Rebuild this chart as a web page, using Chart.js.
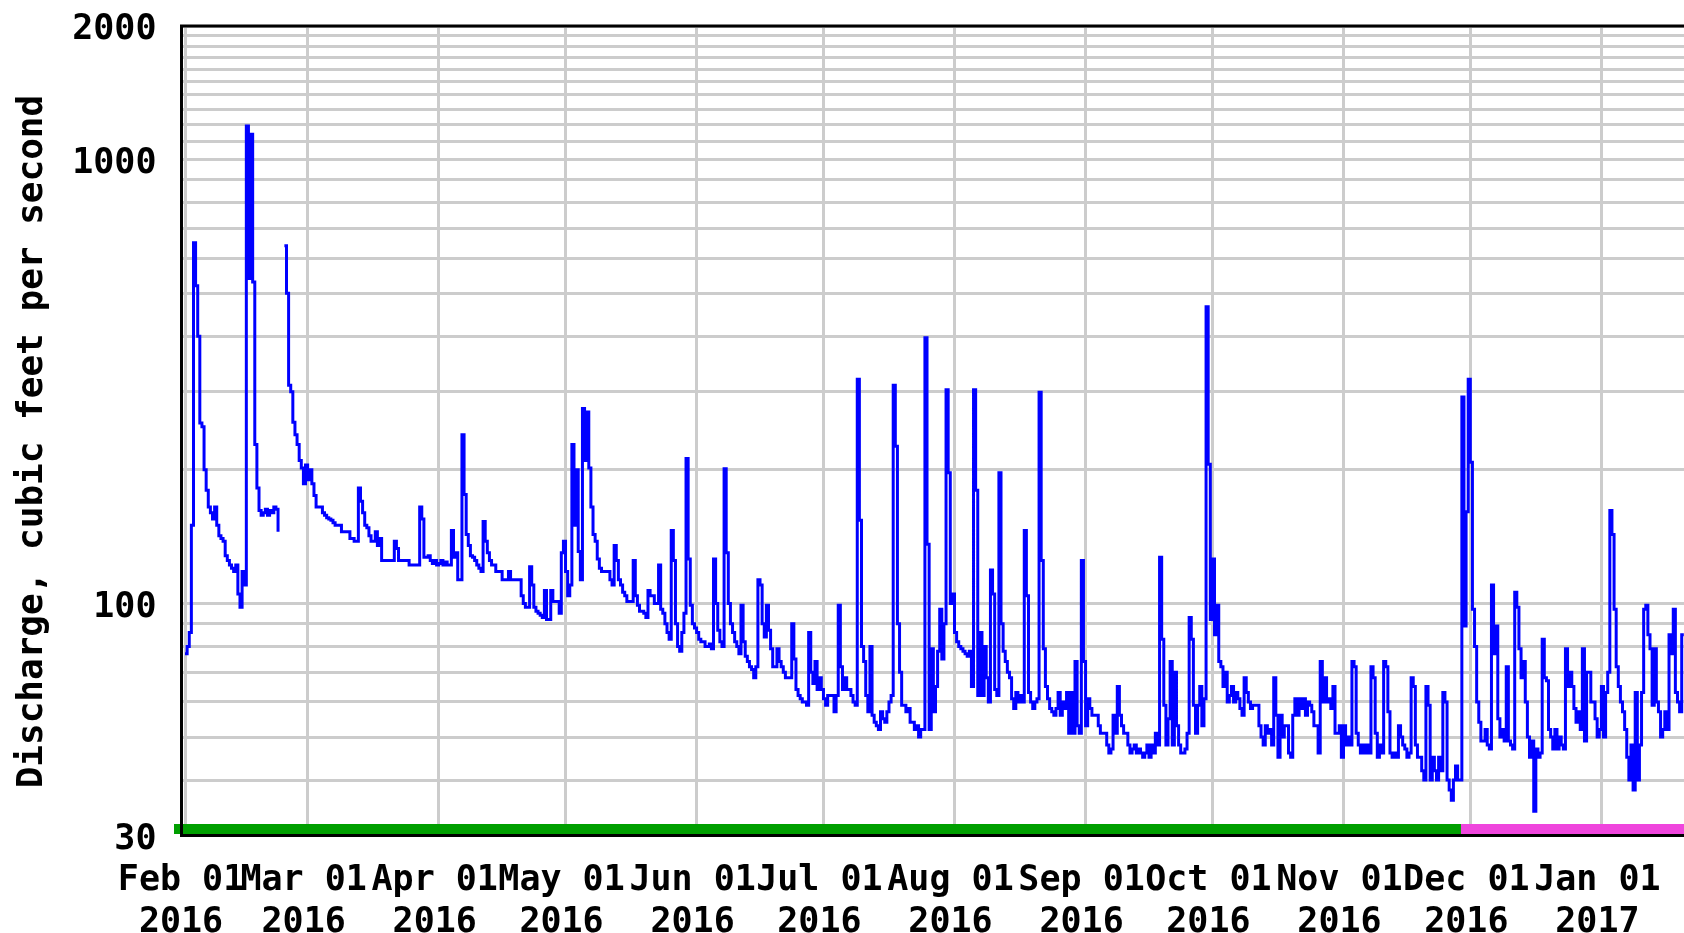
<!DOCTYPE html>
<html>
<head>
<meta charset="utf-8">
<script src="https://cdn.jsdelivr.net/npm/chart.js@4"></script>
<style>
  html, body { margin: 0; padding: 0; background: #fff; overflow: hidden; }
  canvas { display: block; }
</style>
</head>
<body>
<canvas id="flowChart" width="1684" height="933"></canvas>
<script>
// Discharge (cfs), two readings per day (00h, 12h), each month starting on the 1st
const feb2016 = [77,80, 86,150, 650,520, 400,255, 250,200, 180,165, 160,155, 165,150, 142,140, 138,128, 125,122, 120,118, 122,105, 98,118, 110,1190, 540,1140, 530,228, 182,162, 158,160, 163,158, 162,160, 165,163, 145,null, null,640, 500,310, 300,256, 240,228, 210,202, 186,205];
const mar2016 = [190,200, 186,175, 165,165, 165,160, 158,156, 155,154, 152,150, 150,150, 145,145, 145,145, 140,140, 138,138, 182,170, 160,150, 148,142, 138,138, 145,135, 140,125, 125,125, 125,125, 125,138, 133,125, 125,125, 125,125, 122,122, 122,122, 122,165, 155,127, 127,128, 125,123, 125,122];
const apr2016 = [123,125, 122,124, 122,122, 146,127, 130,113, 113,240, 176,143, 135,128, 127,125, 122,120, 118,153, 138,130, 125,122, 122,118, 118,118, 113,113, 113,118, 113,113, 113,113, 113,104, 100,98, 98,121, 110,98, 96,95, 94,93, 107,92, 92,107, 101,101, 101,95, 130,138];
const may2016 = [118,104, 110,228, 150,200, 131,113, 275,210, 270,202, 165,143, 138,126, 120,118, 118,118, 118,113, 110,135, 125,113, 110,106, 104,101, 101,101, 125,104, 99,96, 96,95, 93,107, 104,104, 100,100, 122,97, 95,90, 86,83, 146,125, 90,80, 78,86, 95,212, 126,99, 90,88];
const jun2016 = [86,83, 82,82, 80,80, 81,79, 126,100, 87,82, 80,201, 130,100, 90,86, 82,80, 77,99, 82,76, 74,72, 71,68, 72,113, 110,90, 84,99, 87,79, 72,72, 79,74, 72,70, 68,68, 68,90, 75,64, 62,61, 60,60, 59,86, 70,66, 74,64, 68,64];
const jul2016 = [61,59, 62,62, 62,57, 62,99, 72,64, 68,64, 64,62, 60,59, 320,154, 80,74, 62,57, 80,56, 54,53, 52,57, 55,54, 57,60, 62,310, 226,90, 70,59, 59,57, 58,54, 54,52, 53,50, 52,52, 397,136, 52,79, 57,65, 78,97, 75,90, 303,197, 100,105];
const aug2016 = [86,82, 80,79, 78,77, 76,78, 65,303, 180,62, 86,62, 80,68, 60,119, 105,64, 62,197, 90,78, 74,70, 68,61, 58,63, 60,62, 60,146, 104,63, 60,58, 60,61, 299,125, 79,65, 61,58, 57,56, 58,63, 56,60, 58,63, 51,63, 51,74, 53,51, 125,74];
const sep2016 = [53,61, 58,56, 56,56, 53,51, 51,51, 48,46, 47,56, 51,65, 56,53, 51,51, 48,46, 47,48, 46,47, 46,45, 46,48, 45,48, 46,51, 48,127, 83,59, 48,55, 74,48, 70,53, 48,46, 46,47, 51,93, 83,59, 51,59, 65,53, 61,466, 206,92];
const oct2016 = [126,85, 99,74, 72,65, 70,60, 62,65, 60,63, 61,58, 56,68, 63,60, 58,59, 59,59, 53,50, 48,53, 51,52, 48,68, 56,45, 56,50, 53,53, 46,45, 56,61, 56,61, 58,61, 56,60, 59,57, 53,53, 46,74, 60,68, 60,61, 58,65, 51,51, 53,45];
const nov2016 = [53,48, 50,48, 74,72, 51,48, 46,48, 46,48, 46,72, 68,51, 45,48, 46,74, 72,57, 46,45, 46,45, 53,50, 48,47, 45,46, 68,65, 48,45, 45,42, 40,65, 59,40, 45,42, 40,45, 42,63, 60,40, 38,36, 40,43, 40,40, 292,89, 161,320];
const dec2016 = [208,97, 80,60, 54,49, 49,52, 48,47, 110,77, 89,55, 50,52, 49,72, 49,48, 47,106, 98,79, 68,74, 60,50, 45,49, 34,47, 45,46, 83,68, 67,52, 50,47, 52,47, 50,48, 47,79, 65,70, 65,58, 54,57, 52,79, 49,70, 70,60, 60,55, 50,52];
const jan2017 = [65,50, 63,70, 162,143, 97,72, 65,60, 57,52, 45,40, 48,38, 63,40, 48,63, 97,99, 85,79, 59,79, 60,57, 50,52, 57,52, 85,77, 97,63, 60,57, 85,85];

const monthStarts = ['2016-02-01', '2016-03-01', '2016-04-01', '2016-05-01', '2016-06-01', '2016-07-01',
  '2016-08-01', '2016-09-01', '2016-10-01', '2016-11-01', '2016-12-01', '2017-01-01'];
const monthSeries = [feb2016, mar2016, apr2016, may2016, jun2016, jul2016,
  aug2016, sep2016, oct2016, nov2016, dec2016, jan2017];

const monthNames = ['Jan', 'Feb', 'Mar', 'Apr', 'May', 'Jun', 'Jul', 'Aug', 'Sep', 'Oct', 'Nov', 'Dec'];
const yLabels = [30, 100, 1000, 2000];
const xFrom = '2016-01-31T04:00:00Z';
const xTo = '2017-01-20T13:00:00Z';
const provisionalFrom = '2016-11-28T19:00:00Z'; // approved before, provisional after

const origin = Date.parse('2016-02-01T00:00:00Z');
function dayOf(s) {
  if (s.length === 10) s += 'T00:00:00Z';
  return (Date.parse(s) - origin) / 86400000;
}

const points = [];
monthSeries.forEach((vals, m) => {
  const start = dayOf(monthStarts[m]);
  vals.forEach((v, i) => points.push({ x: start + i * 0.5, y: v }));
});

const tickDays = monthStarts.map(dayOf);

// gridlines every 10 below 100, every 100 above
const yGrid = [];
for (let v = 30; v < 100; v += 10) yGrid.push(v);
for (let v = 100; v <= 2000; v += 100) yGrid.push(v);

const monoFont = "'DejaVu Sans Mono', monospace";

const frameAndStatus = {
  id: 'frameAndStatus',
  afterDatasetsDraw(chart) {
    const { ctx, chartArea: a, scales } = chart;
    const split = scales.x.getPixelForValue(dayOf(provisionalFrom));
    ctx.save();
    ctx.fillStyle = '#009f00';
    ctx.fillRect(a.left - 7.5, a.bottom - 11.5, split - a.left + 7.5, 10);
    ctx.fillStyle = '#ef45dd';
    ctx.fillRect(split, a.bottom - 11.5, a.right - split, 10);
    ctx.strokeStyle = '#000';
    ctx.lineWidth = 3;
    ctx.beginPath();
    ctx.moveTo(a.left, a.bottom);
    ctx.lineTo(a.left, a.top);
    ctx.lineTo(a.right, a.top);
    ctx.stroke();
    ctx.restore();
  }
};

new Chart(document.getElementById('flowChart'), {
  type: 'line',
  data: {
    datasets: [{
      data: points,
      borderColor: '#0000ff',
      borderWidth: 3,
      stepped: true,
      pointRadius: 0,
      spanGaps: false,
      borderJoinStyle: 'miter'
    }]
  },
  options: {
    responsive: false,
    animation: false,
    devicePixelRatio: 1,
    layout: { padding: { top: 26, right: 0, bottom: 0, left: 0 } },
    plugins: {
      legend: { display: false },
      tooltip: { enabled: false }
    },
    scales: {
      x: {
        type: 'linear',
        min: dayOf(xFrom),
        max: dayOf(xTo),
        afterBuildTicks: (scale) => { scale.ticks = tickDays.map(v => ({ value: v })); },
        afterFit: (scale) => {
          scale.height = 97.5;
          scale.paddingLeft = 0;
          scale.paddingRight = 0;
        },
        grid: { color: '#cccccc', lineWidth: 3, drawTicks: false },
        border: { color: '#000', width: 3 },
        ticks: {
          autoSkip: false,
          maxRotation: 0,
          padding: 25,
          labelOffset: -4,
          color: '#000',
          font: { family: monoFont, size: 35, weight: 'bold', lineHeight: 1.18 },
          callback: (value) => {
            const i = tickDays.indexOf(value);
            if (i < 0) return '';
            const d = new Date(Date.parse(monthStarts[i] + 'T00:00:00Z'));
            return [monthNames[d.getUTCMonth()] + ' 01', String(d.getUTCFullYear())];
          }
        }
      },
      y: {
        type: 'logarithmic',
        min: 30,
        max: 2000,
        afterBuildTicks: (scale) => { scale.ticks = yGrid.map(v => ({ value: v })); },
        afterFit: (scale) => {
          scale.width = 181.5;
          scale.paddingTop = 0;
          scale.paddingBottom = 0;
        },
        grid: { color: '#cccccc', lineWidth: 3, drawTicks: false },
        border: { color: '#000', width: 3 },
        ticks: {
          autoSkip: false,
          padding: 25,
          labelOffset: 4,
          color: '#000',
          font: { family: monoFont, size: 35, weight: 'bold' },
          callback: (value) => yLabels.includes(value) ? String(value) : ''
        },
        title: {
          display: true,
          text: 'Discharge, cubic feet per second ',
          color: '#000',
          padding: { top: 11, bottom: 4 },
          font: { family: monoFont, size: 36, weight: 'bold' }
        }
      }
    }
  },
  plugins: [frameAndStatus]
});
</script>
</body>
</html>
